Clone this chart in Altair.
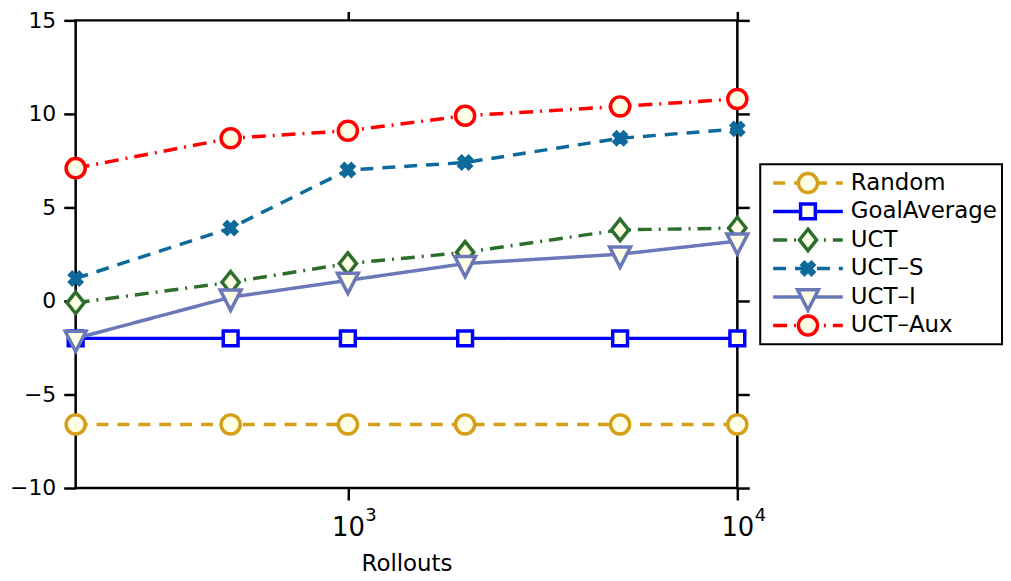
import altair as alt
import pandas as pd

rollouts = [200, 500, 1000, 2000, 5000, 10000]
series_names = ["Random", "GoalAverage", "UCT", "UCT–S", "UCT–I", "UCT–Aux"]
random_vals = [-6.6, -6.6, -6.6, -6.6, -6.6, -6.6]
goal_vals = [-2.0, -2.0, -2.0, -2.0, -2.0, -2.0]
uct_vals = [-0.1, 1.0, 2.0, 2.6, 3.8, 3.9]
uct_s_vals = [1.2, 3.9, 7.0, 7.4, 8.7, 9.2]
uct_i_vals = [-2.0, 0.2, 1.1, 2.0, 2.5, 3.2]
uct_aux_vals = [7.1, 8.7, 9.1, 9.9, 10.4, 10.8]
y_ticks = [-10, -5, 0, 5, 10, 15]
x_ticks = [1000, 10000]
x_tick_base = ["10", "10"]
x_tick_exp = ["3", "4"]

all_vals = [random_vals, goal_vals, uct_vals, uct_s_vals, uct_i_vals, uct_aux_vals]
rows = []
for name, vals in zip(series_names, all_vals):
    for r, v in zip(rollouts, vals):
        rows.append({"series": name, "rollouts": r, "score": v})
df = pd.DataFrame(rows)
legend_df = pd.DataFrame({"series": series_names})

colors = ["#D4A017", "#0000FF", "#2D6E2D", "#0E6A9B", "#6B78B8", "#FF0000"]
fills = ["#FFFFE6", "#FFFFE6", "#FFFFE6", "#0E6A9B", "#FFFFE6", "#FFFFE6"]
dashes = [[12, 9], [1, 0], [14, 7, 2, 7], [13, 9], [1, 0], [14, 7, 2, 7]]
shapes = [
    "M0.8,0A0.8,0.8,0,1,1,-0.8,0A0.8,0.8,0,1,1,0.8,0Z",
    "M-0.62,-0.62L0.62,-0.62L0.62,0.62L-0.62,0.62Z",
    "M0,-0.9L0.72,0L0,0.9L-0.72,0Z",
    "M-0.5,-0.29L-0.29,-0.5L0,-0.21L0.29,-0.5L0.5,-0.29L0.21,0L0.5,0.29L0.29,0.5L0,0.21L-0.29,0.5L-0.5,0.29L-0.21,0Z",
    "M-0.875,-0.6L0.875,-0.6L0,1.1Z",
    "M0.8,0A0.8,0.8,0,1,1,-0.8,0A0.8,0.8,0,1,1,0.8,0Z",
]

color_scale = alt.Scale(domain=series_names, range=colors)
fill_scale = alt.Scale(domain=series_names, range=fills)
dash_scale = alt.Scale(domain=series_names, range=dashes)
shape_scale = alt.Scale(domain=series_names, range=shapes)

xscale = alt.Scale(type="log", domain=[200, 10000], nice=False)
yscale = alt.Scale(domain=[-10, 15], nice=False, zero=False)


def tick_expr(labels):
    return "datum.value == 1000 ? '%s' : '%s'" % (labels[0], labels[1])


lines = alt.Chart(df).mark_line(strokeWidth=3.5).encode(
    x=alt.X("rollouts:Q", scale=xscale,
            axis=alt.Axis(values=x_ticks, labelExpr=tick_expr(x_tick_base), title="Rollouts",
                          orient="bottom", labelPadding=15, titlePadding=12, labelFontSize=26,
                          labelFlush=False, titleFontSize=23)),
    y=alt.Y("score:Q", scale=yscale,
            axis=alt.Axis(values=y_ticks, title=None, orient="left", labelPadding=8)),
    color=alt.Color("series:N", scale=color_scale, legend=None),
    strokeDash=alt.StrokeDash("series:N", scale=dash_scale, legend=None),
)

exponents = alt.Chart(df).mark_line(opacity=0).encode(
    x=alt.X("rollouts:Q", scale=xscale,
            axis=alt.Axis(values=x_ticks, labelExpr=tick_expr(x_tick_exp), title=None,
                          orient="bottom", ticks=False, labelPadding=19, labelFontSize=18,
                          labelAlign="left", labelOffset=17, labelFlush=False)),
    y=alt.Y("score:Q", scale=yscale, axis=None),
    detail="series:N",
)

points = alt.Chart(df).mark_point(size=576, strokeWidth=3.5, opacity=1, fillOpacity=1, filled=False).encode(
    x=alt.X("rollouts:Q", scale=xscale,
            axis=alt.Axis(values=x_ticks, labels=False, title=None, orient="top", tickSize=9)),
    y=alt.Y("score:Q", scale=yscale,
            axis=alt.Axis(values=y_ticks, labels=False, title=None, orient="right")),
    shape=alt.Shape("series:N", scale=shape_scale, legend=None),
    stroke=alt.Stroke("series:N", scale=color_scale, legend=None),
    fill=alt.Fill("series:N", scale=fill_scale, legend=None),
)

main = alt.layer(lines, exponents, points).resolve_axis(x="independent", y="independent").properties(
    width=665, height=470,
    view=alt.ViewBackground(stroke="black", strokeWidth=2.5),
)

ly = alt.Y("series:N", scale=alt.Scale(domain=series_names, type="point", padding=0.66), axis=None)
leg_lines = alt.Chart(legend_df).mark_rule(strokeWidth=3.5).encode(
    x=alt.value(13), x2=alt.value(83), y=ly,
    color=alt.Color("series:N", scale=color_scale, legend=None),
    strokeDash=alt.StrokeDash("series:N", scale=dash_scale, legend=None),
)
leg_points = alt.Chart(legend_df).mark_point(size=576, strokeWidth=3.5, opacity=1, fillOpacity=1, filled=False).encode(
    x=alt.value(48), y=ly,
    shape=alt.Shape("series:N", scale=shape_scale, legend=None),
    stroke=alt.Stroke("series:N", scale=color_scale, legend=None),
    fill=alt.Fill("series:N", scale=fill_scale, legend=None),
)
leg_text = alt.Chart(legend_df).mark_text(align="left", baseline="middle", fontSize=23, color="black",
                                          font="DejaVu Sans").encode(
    x=alt.value(91), y=ly, text="series:N",
)
legend = alt.layer(leg_lines, leg_points, leg_text).properties(
    width=243, height=181,
    view=alt.ViewBackground(stroke="black", strokeWidth=2),
)

chart = alt.HConcatChart(hconcat=[main, legend], spacing=23, center=True, bounds="flush").properties(
    padding={"left": 0, "top": -2, "right": 0, "bottom": 0},
).configure(font="DejaVu Sans").configure_axis(
    grid=False, domain=False, tickSize=12, tickWidth=2.5, tickColor="black",
    labelFontSize=22, labelColor="black", labelFont="DejaVu Sans",
    titleFontSize=23, titleFontWeight="normal", titleColor="black", titleFont="DejaVu Sans",
)

chart.save("out.html", embed_options={"renderer": "svg", "actions": False})
